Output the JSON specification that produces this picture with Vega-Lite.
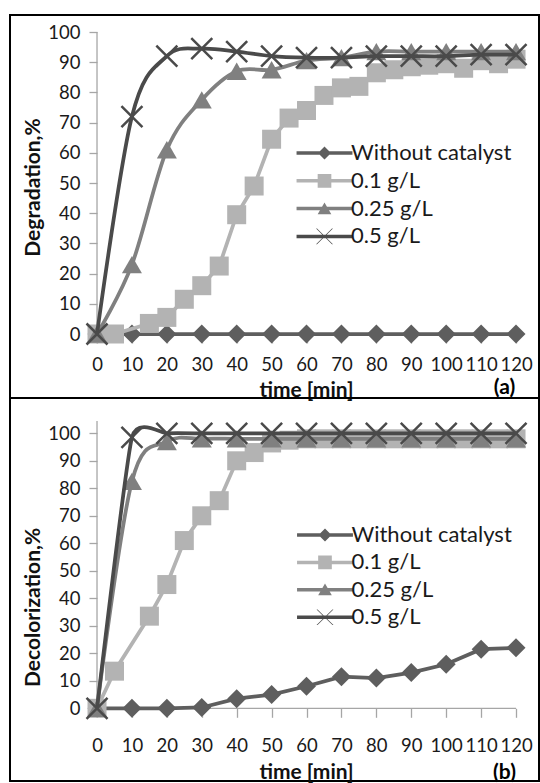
{
"$schema":"https://vega.github.io/schema/vega-lite/v6.json",
"background":"white",
"padding":{"left":9,"top":14,"right":0,"bottom":0},
"spacing":0,
"bounds":"flush",
"resolve":{"scale":{"color":"independent","shape":"independent"},"legend":{"color":"independent","shape":"independent"}},
"config":{"view":{"stroke":"#000","strokeWidth":2},"font":"Lato"},
"datasets":{
"a":[
{"t":0,"v":0,"s":"Without catalyst"},{"t":10,"v":0,"s":"Without catalyst"},{"t":20,"v":0,"s":"Without catalyst"},{"t":30,"v":0,"s":"Without catalyst"},{"t":40,"v":0,"s":"Without catalyst"},{"t":50,"v":0,"s":"Without catalyst"},{"t":60,"v":0,"s":"Without catalyst"},{"t":70,"v":0,"s":"Without catalyst"},{"t":80,"v":0,"s":"Without catalyst"},{"t":90,"v":0,"s":"Without catalyst"},{"t":100,"v":0,"s":"Without catalyst"},{"t":110,"v":0,"s":"Without catalyst"},{"t":120,"v":0,"s":"Without catalyst"},
{"t":0,"v":0,"s":"0.1 g/L"},{"t":5,"v":0,"s":"0.1 g/L"},{"t":15,"v":3.5,"s":"0.1 g/L"},{"t":20,"v":5.5,"s":"0.1 g/L"},{"t":25,"v":11.5,"s":"0.1 g/L"},{"t":30,"v":16,"s":"0.1 g/L"},{"t":35,"v":22.5,"s":"0.1 g/L"},{"t":40,"v":39.5,"s":"0.1 g/L"},{"t":45,"v":49,"s":"0.1 g/L"},{"t":50,"v":64.5,"s":"0.1 g/L"},{"t":55,"v":71.5,"s":"0.1 g/L"},{"t":60,"v":74,"s":"0.1 g/L"},{"t":65,"v":79,"s":"0.1 g/L"},{"t":70,"v":81.5,"s":"0.1 g/L"},{"t":75,"v":82,"s":"0.1 g/L"},{"t":80,"v":86.5,"s":"0.1 g/L"},{"t":85,"v":87.5,"s":"0.1 g/L"},{"t":90,"v":88.5,"s":"0.1 g/L"},{"t":95,"v":89,"s":"0.1 g/L"},{"t":100,"v":89.5,"s":"0.1 g/L"},{"t":105,"v":88,"s":"0.1 g/L"},{"t":110,"v":90.5,"s":"0.1 g/L"},{"t":115,"v":89.5,"s":"0.1 g/L"},{"t":120,"v":91,"s":"0.1 g/L"},
{"t":0,"v":0,"s":"0.25 g/L"},{"t":10,"v":23,"s":"0.25 g/L"},{"t":20,"v":61,"s":"0.25 g/L"},{"t":30,"v":77.5,"s":"0.25 g/L"},{"t":40,"v":87,"s":"0.25 g/L"},{"t":50,"v":87.5,"s":"0.25 g/L"},{"t":60,"v":90.5,"s":"0.25 g/L"},{"t":70,"v":91.5,"s":"0.25 g/L"},{"t":80,"v":93.5,"s":"0.25 g/L"},{"t":90,"v":93.5,"s":"0.25 g/L"},{"t":100,"v":93.5,"s":"0.25 g/L"},{"t":110,"v":93.5,"s":"0.25 g/L"},{"t":120,"v":93.5,"s":"0.25 g/L"},
{"t":0,"v":0,"s":"0.5 g/L"},{"t":10,"v":72,"s":"0.5 g/L"},{"t":20,"v":92,"s":"0.5 g/L"},{"t":30,"v":94.5,"s":"0.5 g/L"},{"t":40,"v":93.5,"s":"0.5 g/L"},{"t":50,"v":92,"s":"0.5 g/L"},{"t":60,"v":91.5,"s":"0.5 g/L"},{"t":70,"v":91.5,"s":"0.5 g/L"},{"t":80,"v":92,"s":"0.5 g/L"},{"t":90,"v":92,"s":"0.5 g/L"},{"t":100,"v":92,"s":"0.5 g/L"},{"t":110,"v":92.5,"s":"0.5 g/L"},{"t":120,"v":92.5,"s":"0.5 g/L"}
],
"b":[
{"t":0,"v":0,"s":"Without catalyst"},{"t":10,"v":0,"s":"Without catalyst"},{"t":20,"v":0,"s":"Without catalyst"},{"t":30,"v":0.3,"s":"Without catalyst"},{"t":40,"v":3.5,"s":"Without catalyst"},{"t":50,"v":5,"s":"Without catalyst"},{"t":60,"v":8,"s":"Without catalyst"},{"t":70,"v":11.5,"s":"Without catalyst"},{"t":80,"v":11,"s":"Without catalyst"},{"t":90,"v":13,"s":"Without catalyst"},{"t":100,"v":16,"s":"Without catalyst"},{"t":110,"v":21.5,"s":"Without catalyst"},{"t":120,"v":22,"s":"Without catalyst"},
{"t":0,"v":0,"s":"0.1 g/L"},{"t":5,"v":13.5,"s":"0.1 g/L"},{"t":15,"v":33.5,"s":"0.1 g/L"},{"t":20,"v":45,"s":"0.1 g/L"},{"t":25,"v":61,"s":"0.1 g/L"},{"t":30,"v":70,"s":"0.1 g/L"},{"t":35,"v":75.5,"s":"0.1 g/L"},{"t":40,"v":90,"s":"0.1 g/L"},{"t":45,"v":93,"s":"0.1 g/L"},{"t":50,"v":96.5,"s":"0.1 g/L"},{"t":55,"v":97.5,"s":"0.1 g/L"},{"t":60,"v":98,"s":"0.1 g/L"},{"t":65,"v":98,"s":"0.1 g/L"},{"t":70,"v":98,"s":"0.1 g/L"},{"t":75,"v":98,"s":"0.1 g/L"},{"t":80,"v":98,"s":"0.1 g/L"},{"t":85,"v":98,"s":"0.1 g/L"},{"t":90,"v":98,"s":"0.1 g/L"},{"t":95,"v":98,"s":"0.1 g/L"},{"t":100,"v":98,"s":"0.1 g/L"},{"t":105,"v":98,"s":"0.1 g/L"},{"t":110,"v":98,"s":"0.1 g/L"},{"t":115,"v":98,"s":"0.1 g/L"},{"t":120,"v":98,"s":"0.1 g/L"},
{"t":0,"v":0,"s":"0.25 g/L"},{"t":10,"v":82.5,"s":"0.25 g/L"},{"t":20,"v":97,"s":"0.25 g/L"},{"t":30,"v":98,"s":"0.25 g/L"},{"t":40,"v":98,"s":"0.25 g/L"},{"t":50,"v":98,"s":"0.25 g/L"},{"t":60,"v":98,"s":"0.25 g/L"},{"t":70,"v":98,"s":"0.25 g/L"},{"t":80,"v":98,"s":"0.25 g/L"},{"t":90,"v":98,"s":"0.25 g/L"},{"t":100,"v":98,"s":"0.25 g/L"},{"t":110,"v":98,"s":"0.25 g/L"},{"t":120,"v":98,"s":"0.25 g/L"},
{"t":0,"v":0,"s":"0.5 g/L"},{"t":10,"v":98.5,"s":"0.5 g/L"},{"t":20,"v":100,"s":"0.5 g/L"},{"t":30,"v":100,"s":"0.5 g/L"},{"t":40,"v":100,"s":"0.5 g/L"},{"t":50,"v":100,"s":"0.5 g/L"},{"t":60,"v":100,"s":"0.5 g/L"},{"t":70,"v":100,"s":"0.5 g/L"},{"t":80,"v":100,"s":"0.5 g/L"},{"t":90,"v":100,"s":"0.5 g/L"},{"t":100,"v":100,"s":"0.5 g/L"},{"t":110,"v":100,"s":"0.5 g/L"},{"t":120,"v":100,"s":"0.5 g/L"}
]
},
"vconcat":[
{
"width":529,"height":383,
"data":{"name":"a"},
"encoding":{
"x":{"field":"t","type":"quantitative","scale":{"domain":[-24.92,126.58],"nice":false,"zero":false},
"axis":{"values":[0,10,20,30,40,50,60,70,80,90,100,110,120],"offset":-64,"domain":false,"grid":false,"tickSize":9,"tickColor":"#a6a6a6","tickWidth":1.3,"labelFont":"Lato","labelFontSize":18.5,"labelColor":"#1a1a1a","labelPadding":12,"labelFlush":false,"labelOverlap":false,"title":"time [min]","titleFont":"Lato","titleFontSize":21,"titleFontWeight":"bold","titleColor":"#111","titleX":296,"titleY":56,"titleBaseline":"middle","titleAlign":"center"}},
"y":{"field":"v","type":"quantitative","scale":{"domain":[-21.19,105.63],"nice":false,"zero":false},
"axis":{"values":[0,10,20,30,40,50,60,70,80,90,100],"offset":-87,"domain":false,"grid":false,"tickSize":8,"tickColor":"#a6a6a6","tickWidth":1.3,"labelFont":"Lato","labelFontSize":18.5,"labelColor":"#1a1a1a","labelPadding":9,"labelOverlap":false,"labelFlush":false,"title":"Degradation,%","titleFont":"Lato","titleFontSize":21,"titleFontWeight":"bold","titleColor":"#111","titleX":-64,"titleY":172,"titleBaseline":"middle","titleAlign":"center","titleAngle":-90}}
},
"layer":[
{"transform":[{"filter":{"and":[{"field":"t","equal":0},{"field":"s","equal":"Without catalyst"}]}}],"mark":{"type":"rule","strokeWidth":1.3,"color":"#a6a6a6"},"encoding":{"x":{"datum":0,"type":"quantitative","scale":{"domain":[-24.92,126.58],"nice":false,"zero":false}},"y":{"datum":0,"type":"quantitative","scale":{"domain":[-21.19,105.63],"nice":false,"zero":false}},"y2":{"datum":100}}},
{"transform":[{"filter":{"and":[{"field":"t","equal":0},{"field":"s","equal":"Without catalyst"}]}}],"mark":{"type":"rule","strokeWidth":1.3,"color":"#a6a6a6"},"encoding":{"x":{"datum":0,"type":"quantitative","scale":{"domain":[-24.92,126.58],"nice":false,"zero":false}},"x2":{"datum":120},"y":{"datum":0,"type":"quantitative","scale":{"domain":[-21.19,105.63],"nice":false,"zero":false}}}},
{"transform":[{"filter":{"field":"s","equal":"Without catalyst"}}],"mark":{"type":"line","strokeWidth":3.75,"interpolate":"linear","color":"#5e5e5e"}},
{"transform":[{"filter":{"field":"s","equal":"Without catalyst"}}],"mark":{"type":"point","shape":"diamond","filled":true,"size":361,"opacity":1,"color":"#5e5e5e"}},
{"transform":[{"filter":{"field":"s","equal":"0.1 g/L"}}],"mark":{"type":"line","strokeWidth":3.75,"interpolate":"linear","color":"#b3b3b3"}},
{"transform":[{"filter":{"field":"s","equal":"0.1 g/L"}}],"mark":{"type":"point","shape":"square","filled":true,"size":361,"opacity":1,"color":"#b3b3b3"}},
{"transform":[{"filter":{"field":"s","equal":"0.25 g/L"}}],"mark":{"type":"line","strokeWidth":3.75,"interpolate":"cardinal","color":"#808080"}},
{"transform":[{"filter":{"field":"s","equal":"0.25 g/L"}}],"mark":{"type":"point","shape":"triangle-up","filled":true,"size":400,"opacity":1,"color":"#808080"}},
{"transform":[{"filter":{"field":"s","equal":"0.5 g/L"}}],"mark":{"type":"line","strokeWidth":3.75,"interpolate":"cardinal","color":"#4a4a4a"}},
{"transform":[{"filter":{"field":"s","equal":"0.5 g/L"}}],"mark":{"type":"point","shape":"M-1,-1L1,1M-1,1L1,-1","filled":false,"size":441,"strokeWidth":2.5,"opacity":1,"color":"#4a4a4a"}},
{"mark":{"type":"point","filled":true,"opacity":0,"size":169},
"encoding":{
"color":{"field":"s","type":"nominal","scale":{"domain":["Without catalyst","0.1 g/L","0.25 g/L","0.5 g/L"],"range":["#5e5e5e","#b3b3b3","#808080","#4a4a4a"]},
"legend":{"orient":"none","legendX":303.5,"legendY":127,"title":null,"symbolSize":169,"symbolOpacity":1,"symbolStrokeWidth":0,"labelOffset":15.5,"rowPadding":5.8,"padding":0,"labelFont":"Lato","labelFontSize":22,"labelColor":"#1a1a1a","labelLimit":400}},
"shape":{"field":"s","type":"nominal","scale":{"domain":["Without catalyst","0.1 g/L","0.25 g/L","0.5 g/L"],"range":["M-4.3,-0.27L4.3,-0.27L4.3,0.27L-4.3,0.27Z M0,-1L1,0L0,1L-1,0Z","M-4.3,-0.27L4.3,-0.27L4.3,0.27L-4.3,0.27Z M-1.05,-1.05L1.05,-1.05L1.05,1.05L-1.05,1.05Z","M-4.3,-0.27L4.3,-0.27L4.3,0.27L-4.3,0.27Z M0,-0.95L1.05,0.85L-1.05,0.85Z","M-4.3,-0.27L4.3,-0.27L4.3,0.27L-4.3,0.27Z M-1.3,-1.2L-1.15,-1.2L1.3,1.2L1.15,1.2Z M1.15,-1.2L1.3,-1.2L-1.15,1.2L-1.3,1.2Z"]},
"legend":{"orient":"none","legendX":303.5,"legendY":127,"title":null,"symbolSize":169,"symbolOpacity":1,"symbolStrokeWidth":0,"labelOffset":15.5,"rowPadding":5.8,"padding":0,"labelFont":"Lato","labelFontSize":22,"labelColor":"#1a1a1a","labelLimit":400}}
}},
{"transform":[{"filter":{"and":[{"field":"t","equal":0},{"field":"s","equal":"Without catalyst"}]}}],"mark":{"type":"text","font":"Lato","fontSize":21,"fontWeight":"bold","align":"center","baseline":"middle","color":"#000"},"encoding":{"x":{"datum":116.7,"type":"quantitative","scale":{"domain":[-24.92,126.58],"nice":false,"zero":false}},"y":{"datum":-18,"type":"quantitative","scale":{"domain":[-21.19,105.63],"nice":false,"zero":false}},"text":{"value":"(a)"}}}
]
},
{
"width":529,"height":383,
"data":{"name":"b"},
"encoding":{
"x":{"field":"t","type":"quantitative","scale":{"domain":[-24.92,126.58],"nice":false,"zero":false},
"axis":{"values":[0,10,20,30,40,50,60,70,80,90,100,110,120],"offset":-72.7,"domain":false,"grid":false,"tickSize":9,"tickColor":"#a6a6a6","tickWidth":1.3,"labelFont":"Lato","labelFontSize":18.5,"labelColor":"#1a1a1a","labelPadding":19,"labelFlush":false,"labelOverlap":false,"title":"time [min]","titleFont":"Lato","titleFontSize":21,"titleFontWeight":"bold","titleColor":"#111","titleX":296,"titleY":64,"titleBaseline":"middle","titleAlign":"center"}},
"y":{"field":"v","type":"quantitative","scale":{"domain":[-26.44,112.84],"nice":false,"zero":false},
"axis":{"values":[0,10,20,30,40,50,60,70,80,90,100],"offset":-87,"domain":false,"grid":false,"tickSize":8,"tickColor":"#a6a6a6","tickWidth":1.3,"labelFont":"Lato","labelFontSize":18.5,"labelColor":"#1a1a1a","labelPadding":9,"labelOverlap":false,"labelFlush":false,"title":"Decolorization,%","titleFont":"Lato","titleFontSize":21,"titleFontWeight":"bold","titleColor":"#111","titleX":-64,"titleY":209,"titleBaseline":"middle","titleAlign":"center","titleAngle":-90}}
},
"layer":[
{"transform":[{"filter":{"and":[{"field":"t","equal":0},{"field":"s","equal":"Without catalyst"}]}}],"mark":{"type":"rule","strokeWidth":1.3,"color":"#a6a6a6"},"encoding":{"x":{"datum":0,"type":"quantitative","scale":{"domain":[-24.92,126.58],"nice":false,"zero":false}},"y":{"datum":0,"type":"quantitative","scale":{"domain":[-26.44,112.84],"nice":false,"zero":false}},"y2":{"datum":104.5}}},
{"transform":[{"filter":{"and":[{"field":"t","equal":0},{"field":"s","equal":"Without catalyst"}]}}],"mark":{"type":"rule","strokeWidth":1.3,"color":"#a6a6a6"},"encoding":{"x":{"datum":0,"type":"quantitative","scale":{"domain":[-24.92,126.58],"nice":false,"zero":false}},"x2":{"datum":120},"y":{"datum":0,"type":"quantitative","scale":{"domain":[-26.44,112.84],"nice":false,"zero":false}}}},
{"transform":[{"filter":{"field":"s","equal":"Without catalyst"}}],"mark":{"type":"line","strokeWidth":3.75,"interpolate":"linear","color":"#5e5e5e"}},
{"transform":[{"filter":{"field":"s","equal":"Without catalyst"}}],"mark":{"type":"point","shape":"diamond","filled":true,"size":361,"opacity":1,"color":"#5e5e5e"}},
{"transform":[{"filter":{"field":"s","equal":"0.1 g/L"}}],"mark":{"type":"line","strokeWidth":3.75,"interpolate":"linear","color":"#b3b3b3"}},
{"transform":[{"filter":{"field":"s","equal":"0.1 g/L"}}],"mark":{"type":"point","shape":"square","filled":true,"size":361,"opacity":1,"color":"#b3b3b3"}},
{"transform":[{"filter":{"field":"s","equal":"0.25 g/L"}}],"mark":{"type":"line","strokeWidth":3.75,"interpolate":"cardinal","color":"#808080"}},
{"transform":[{"filter":{"field":"s","equal":"0.25 g/L"}}],"mark":{"type":"point","shape":"triangle-up","filled":true,"size":400,"opacity":1,"color":"#808080"}},
{"transform":[{"filter":{"field":"s","equal":"0.5 g/L"}}],"mark":{"type":"line","strokeWidth":3.75,"interpolate":"cardinal","tension":0.55,"color":"#4a4a4a"}},
{"transform":[{"filter":{"field":"s","equal":"0.5 g/L"}}],"mark":{"type":"point","shape":"M-1,-1L1,1M-1,1L1,-1","filled":false,"size":441,"strokeWidth":2.5,"opacity":1,"color":"#4a4a4a"}},
{"mark":{"type":"point","filled":true,"opacity":0,"size":169},
"encoding":{
"color":{"field":"s","type":"nominal","scale":{"domain":["Without catalyst","0.1 g/L","0.25 g/L","0.5 g/L"],"range":["#5e5e5e","#b3b3b3","#808080","#4a4a4a"]},
"legend":{"orient":"none","legendX":304,"legendY":126,"title":null,"symbolSize":169,"symbolOpacity":1,"symbolStrokeWidth":0,"labelOffset":15.5,"rowPadding":5.4,"padding":0,"labelFont":"Lato","labelFontSize":22,"labelColor":"#1a1a1a","labelLimit":400}},
"shape":{"field":"s","type":"nominal","scale":{"domain":["Without catalyst","0.1 g/L","0.25 g/L","0.5 g/L"],"range":["M-4.3,-0.27L4.3,-0.27L4.3,0.27L-4.3,0.27Z M0,-1L1,0L0,1L-1,0Z","M-4.3,-0.27L4.3,-0.27L4.3,0.27L-4.3,0.27Z M-1.05,-1.05L1.05,-1.05L1.05,1.05L-1.05,1.05Z","M-4.3,-0.27L4.3,-0.27L4.3,0.27L-4.3,0.27Z M0,-0.95L1.05,0.85L-1.05,0.85Z","M-4.3,-0.27L4.3,-0.27L4.3,0.27L-4.3,0.27Z M-1.3,-1.2L-1.15,-1.2L1.3,1.2L1.15,1.2Z M1.15,-1.2L1.3,-1.2L-1.15,1.2L-1.3,1.2Z"]},
"legend":{"orient":"none","legendX":304,"legendY":126,"title":null,"symbolSize":169,"symbolOpacity":1,"symbolStrokeWidth":0,"labelOffset":15.5,"rowPadding":5.4,"padding":0,"labelFont":"Lato","labelFontSize":22,"labelColor":"#1a1a1a","labelLimit":400}}
}},
{"transform":[{"filter":{"and":[{"field":"t","equal":0},{"field":"s","equal":"Without catalyst"}]}}],"mark":{"type":"text","font":"Lato","fontSize":21,"fontWeight":"bold","align":"center","baseline":"middle","color":"#000"},"encoding":{"x":{"datum":116.7,"type":"quantitative","scale":{"domain":[-24.92,126.58],"nice":false,"zero":false}},"y":{"datum":-23.5,"type":"quantitative","scale":{"domain":[-26.44,112.84],"nice":false,"zero":false}},"text":{"value":"(b)"}}}
]
}
]
}
